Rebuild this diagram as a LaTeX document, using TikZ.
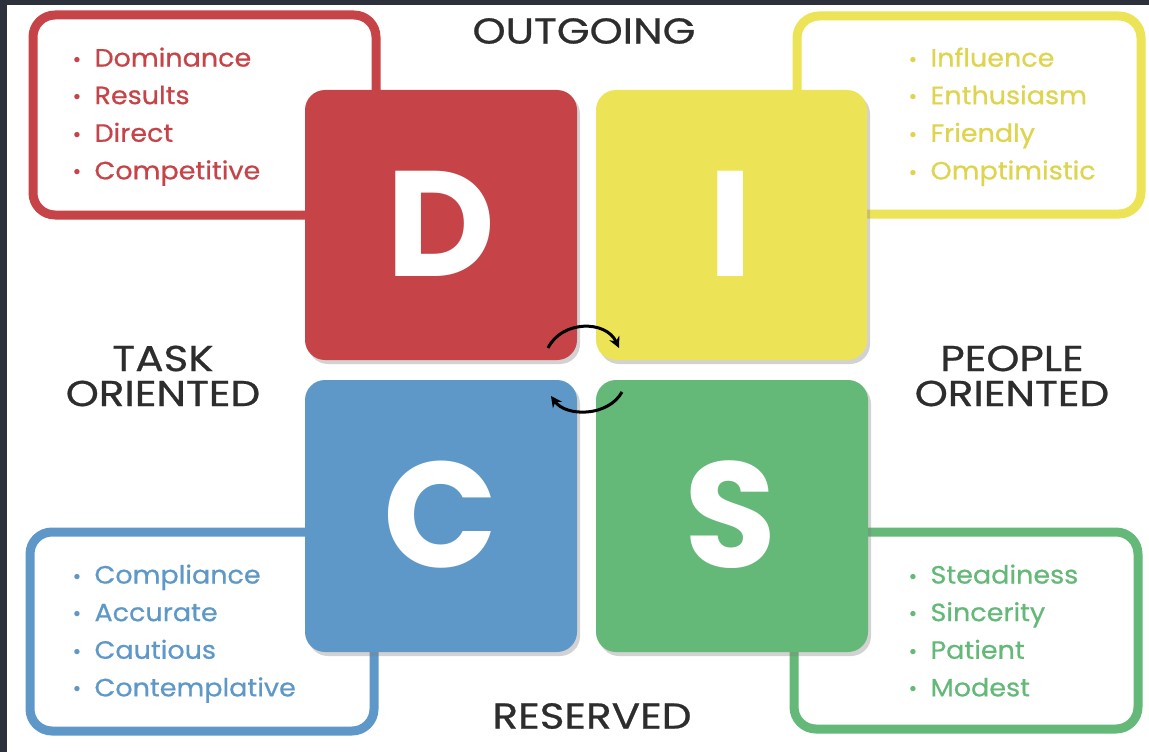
\documentclass[tikz,border=0pt]{standalone}
\usepackage{fontspec}
\setmainfont{Poppins}
\newfontfamily\listfont[FakeBold=0.6, FakeStretch=1.08]{Poppins}
\newfontfamily\labelfont[FakeBold=0.7, FakeStretch=1.17]{Poppins}
\usetikzlibrary{shadows,arrows.meta}
\definecolor{darkbg}{RGB}{44,49,60}
\definecolor{dred}{RGB}{198,68,72}
\definecolor{dyel}{RGB}{236,228,86}
\definecolor{dyeltxt}{RGB}{222,212,78}
\definecolor{dblue}{RGB}{94,152,200}
\definecolor{dgreen}{RGB}{100,184,120}
\definecolor{labelgray}{RGB}{45,45,45}
\tikzset{
  outlinebox/.style={line width=9pt, rounded corners=22pt, fill=white},
  square/.style={rounded corners=20pt, drop shadow={opacity=0.35, shadow xshift=3pt, shadow yshift=-4pt}},
  bigletter/.style={text=white, font=\fontsize{150}{150}\selectfont\bfseries},
  axislabel/.style={text=labelgray, font=\labelfont\fontsize{36}{35}\selectfont, align=center},
  listtext/.style={font=\listfont\fontsize{25}{37.6}\selectfont, align=left, anchor=north west},
  swaparrow/.style={line width=3pt, -{Stealth[length=11pt,width=11pt]}, black}
}
\newcommand{\bul}{\makebox[21pt][l]{\raisebox{0.25ex}{\scalebox{0.55}{$\bullet$}}}}
\begin{document}
\begin{tikzpicture}[x=1pt,y=-1pt]
\useasboundingbox (0,0) rectangle (1149,752);
\fill[darkbg] (0,0) rectangle (1149,752);
\fill[white] (7,5) rectangle (1149,752);

% outline boxes
\draw[outlinebox, draw=dred] (33,15) rectangle (376,215);
\draw[outlinebox, draw=dyel] (797,16) rectangle (1141,214);
\draw[outlinebox, draw=dblue] (30,532) rectangle (374,731);
\draw[outlinebox, draw=dgreen] (794,532) rectangle (1138,729);

% lists
\node[listtext, text=dred] (dlist) at (70,44) {\bul Dominance\\\bul Results\\\bul Direct\\\bul Competitive};
\node[listtext, text=dyeltxt] (ilist) at (906,44) {\bul Influence\\\bul Enthusiasm\\\bul Friendly\\\bul Omptimistic};
\node[listtext, text=dblue] (clist) at (70,561) {\bul Compliance\\\bul Accurate\\\bul Cautious\\\bul Contemplative};
\node[listtext, text=dgreen] (slist) at (906,561) {\bul Steadiness\\\bul Sincerity\\\bul Patient\\\bul Modest};

% squares
\fill[square, dred] (305,90) rectangle (577,360);
\fill[square, dyel] (596,90) rectangle (867,360);
\fill[square, dblue] (305,380) rectangle (577,652);
\fill[square, dgreen] (596,380) rectangle (868,652);

\node[bigletter] (D) at (441,224) {D};
\node[bigletter] (I) at (731,224) {I};
\node[bigletter] (C) at (441,515) {C};
\node[bigletter] (S) at (731,515) {S};

% axis labels
\node[axislabel] (out) at (584,31) {OUTGOING};
\node[axislabel] (res) at (592,716) {RESERVED};
\node[axislabel] (task) at (163,376) {TASK\\ORIENTED};
\node[axislabel] (people) at (1012,376) {PEOPLE\\ORIENTED};

% swap arrows
\coordinate (a1s) at (548,348);
\coordinate (a1e) at (619,348);
\coordinate (a2s) at (622,392);
\coordinate (a2e) at (551,396);
\draw[swaparrow] (a1s) .. controls (562,320) and (606,320) .. (a1e);
\draw[swaparrow] (a2s) .. controls (608,417) and (566,417) .. (a2e);
\end{tikzpicture}
\end{document}
